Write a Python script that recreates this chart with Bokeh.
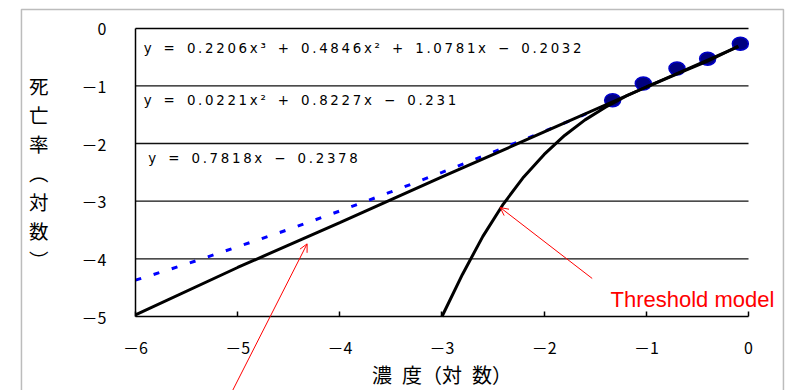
from bokeh.plotting import figure
from bokeh.models import Range1d, FixedTicker, LinearAxis, Label, Arrow, OpenHead, BoxAnnotation
from bokeh.embed import file_html
from bokeh.resources import INLINE

# ---- data ----
x_ticks = [-6, -5, -4, -3, -2, -1, 0]
x_tick_labels = ["－6", "－5", "－4", "－3", "－2", "－1", "0"]
y_ticks = [0, -1, -2, -3, -4, -5]
y_tick_labels = ["0", "－1", "－2", "－3", "－4", "－5"]
grid_levels = [-1, -2, -3, -4]
x_span = [-6, 0]
y_span = [-5, 0]

# blue dashed (quadratic model)
quad_x = [-6.0, -5.5, -5.0, -4.5, -4.0, -3.5, -3.0, -2.5, -2.0, -1.5, -1.3]
quad_y = [-4.37, -4.09, -3.79, -3.49, -3.17, -2.84, -2.50, -2.15, -1.79, -1.42, -1.26]

# black straight line (linear model)
lin_x = [-6.0, -5.0, -4.0, -3.0, -2.0, -1.0, -0.1]
lin_y = [-4.97, -4.15, -3.37, -2.58, -1.80, -1.02, -0.32]

# black steep curve (threshold model, cubic)
thr_x = [-3.0, -2.8, -2.6, -2.4, -2.2, -2.0, -1.8, -1.6, -1.4, -1.2, -1.0, -0.8, -0.6, -0.4, -0.2, -0.1]
thr_y = [-5.0, -4.27, -3.61, -3.05, -2.58, -2.19, -1.86, -1.59, -1.37, -1.18, -1.02, -0.87, -0.72, -0.57, -0.40, -0.31]

# observed points
obs_x = [-1.33, -1.03, -0.70, -0.40, -0.08]
obs_y = [-1.25, -0.96, -0.70, -0.53, -0.27]

equations = [
    "y = 0.2206x³ + 0.4846x² + 1.0781x − 0.2032",
    "y = 0.0221x² + 0.8227x − 0.231",
    "y = 0.7818x − 0.2378",
]
eq_pos = [(-5.92, -0.35), (-5.92, -1.25), (-5.875, -2.26)]

x_title = "濃\u2002度（対\u2002数）"
y_title = "死\n亡\n率\n︵\n対\n数\n︶"
annot_text = "Threshold model"

JP = "Noto Sans CJK JP"

# the frame covers the whole canvas; axes are pinned at the data edges
p = figure(width=785, height=390, x_range=Range1d(-7.321, 0.362), y_range=Range1d(-6.283, 0.480),
           output_backend="svg", toolbar_location=None,
           min_border=0, min_border_left=0, min_border_right=0, min_border_top=0, min_border_bottom=0)
p.background_fill_color = "white"
p.border_fill_color = "white"
p.outline_line_color = None
p.xgrid.visible = False
p.ygrid.visible = False

xa = p.xaxis[0]
ya = p.yaxis[0]
xa.fixed_location = y_span[0]
ya.fixed_location = x_span[0]
xa.bounds = tuple(x_span)
ya.bounds = tuple(y_span)
xa.ticker = FixedTicker(ticks=x_ticks)
xa.major_label_overrides = {t: s for t, s in zip(x_ticks, x_tick_labels)}
ya.ticker = FixedTicker(ticks=y_ticks)
ya.major_label_overrides = {t: s for t, s in zip(y_ticks, y_tick_labels)}
for ax in (xa, ya):
    ax.axis_line_color = "black"
    ax.axis_line_width = 1.5
    ax.major_label_text_font = JP
    ax.major_label_text_font_size = "16px"
    ax.major_label_text_color = "black"
    ax.minor_tick_line_color = None
    ax.axis_label_text_font = JP
    ax.axis_label_text_font_style = "normal"
    ax.axis_label_text_color = "black"
xa.major_tick_in = 5
xa.major_tick_out = 0
xa.major_tick_line_color = "black"
xa.major_tick_line_width = 1.5
xa.major_label_standoff = 18
xa.axis_label = x_title
xa.axis_label_text_font_size = "20px"
xa.axis_label_standoff = -2

ya.major_tick_line_color = None
ya.major_tick_in = 0
ya.major_tick_out = 0
ya.major_label_standoff = 29
ya.axis_label = y_title
ya.axis_label_orientation = "horizontal"
ya.axis_label_text_font_size = "19.5px"
ya.axis_label_text_line_height = 1.0
ya.axis_label_standoff = 30

top_axis = LinearAxis(ticker=FixedTicker(ticks=[]), fixed_location=y_span[1], bounds=tuple(x_span),
                      axis_line_color="black", axis_line_width=1.5,
                      major_tick_line_color=None, minor_tick_line_color=None,
                      major_label_text_font_size="0px")
p.add_layout(top_axis, "above")

# horizontal grid lines inside the plot area
p.segment(x0=[x_span[0]] * len(grid_levels), y0=grid_levels,
          x1=[x_span[1]] * len(grid_levels), y1=grid_levels,
          line_color="#111111", line_width=1.3)

# series
p.line(quad_x, quad_y, line_color="#0000FF", line_width=3, line_dash="6 13")
p.ellipse(obs_x, obs_y, width=16, height=13, width_units="screen", height_units="screen",
          fill_color="#000080", line_color="#0000C8", line_width=1.5)
p.line(lin_x, lin_y, line_color="black", line_width=3)
p.line(thr_x, thr_y, line_color="black", line_width=3)

# equations
for (ex, ey), eq in zip(eq_pos, equations):
    disp = "\u2009".join(eq.replace(" ", "\u2002"))
    p.add_layout(Label(x=ex, y=ey, text=disp, text_font="DejaVu Sans", text_font_size="13.4px",
                       text_color="black", text_baseline="middle", text_align="left"))

# red annotations
p.add_layout(Arrow(end=OpenHead(size=8, line_color="red", line_width=1),
                   x_start=-1.53, y_start=-4.34, x_end=-2.43, y_end=-3.11,
                   line_color="red", line_width=1))
p.add_layout(Arrow(end=OpenHead(size=8, line_color="red", line_width=1),
                   x_start=-5.06, y_start=-6.32, x_end=-4.32, y_end=-3.74,
                   line_color="red", line_width=1))
p.add_layout(Label(x=-1.351, y=-4.705, text=annot_text, text_font="Liberation Sans",
                   text_font_size="22px", text_color="red", text_baseline="alphabetic"))

# outer frame box
p.add_layout(BoxAnnotation(left=-7.116, right=0.342, top=0.324, bottom=-6.5,
                           fill_alpha=0, line_color="#222222", line_width=1.5))

open("out.html", "w").write(file_html(p, INLINE))
